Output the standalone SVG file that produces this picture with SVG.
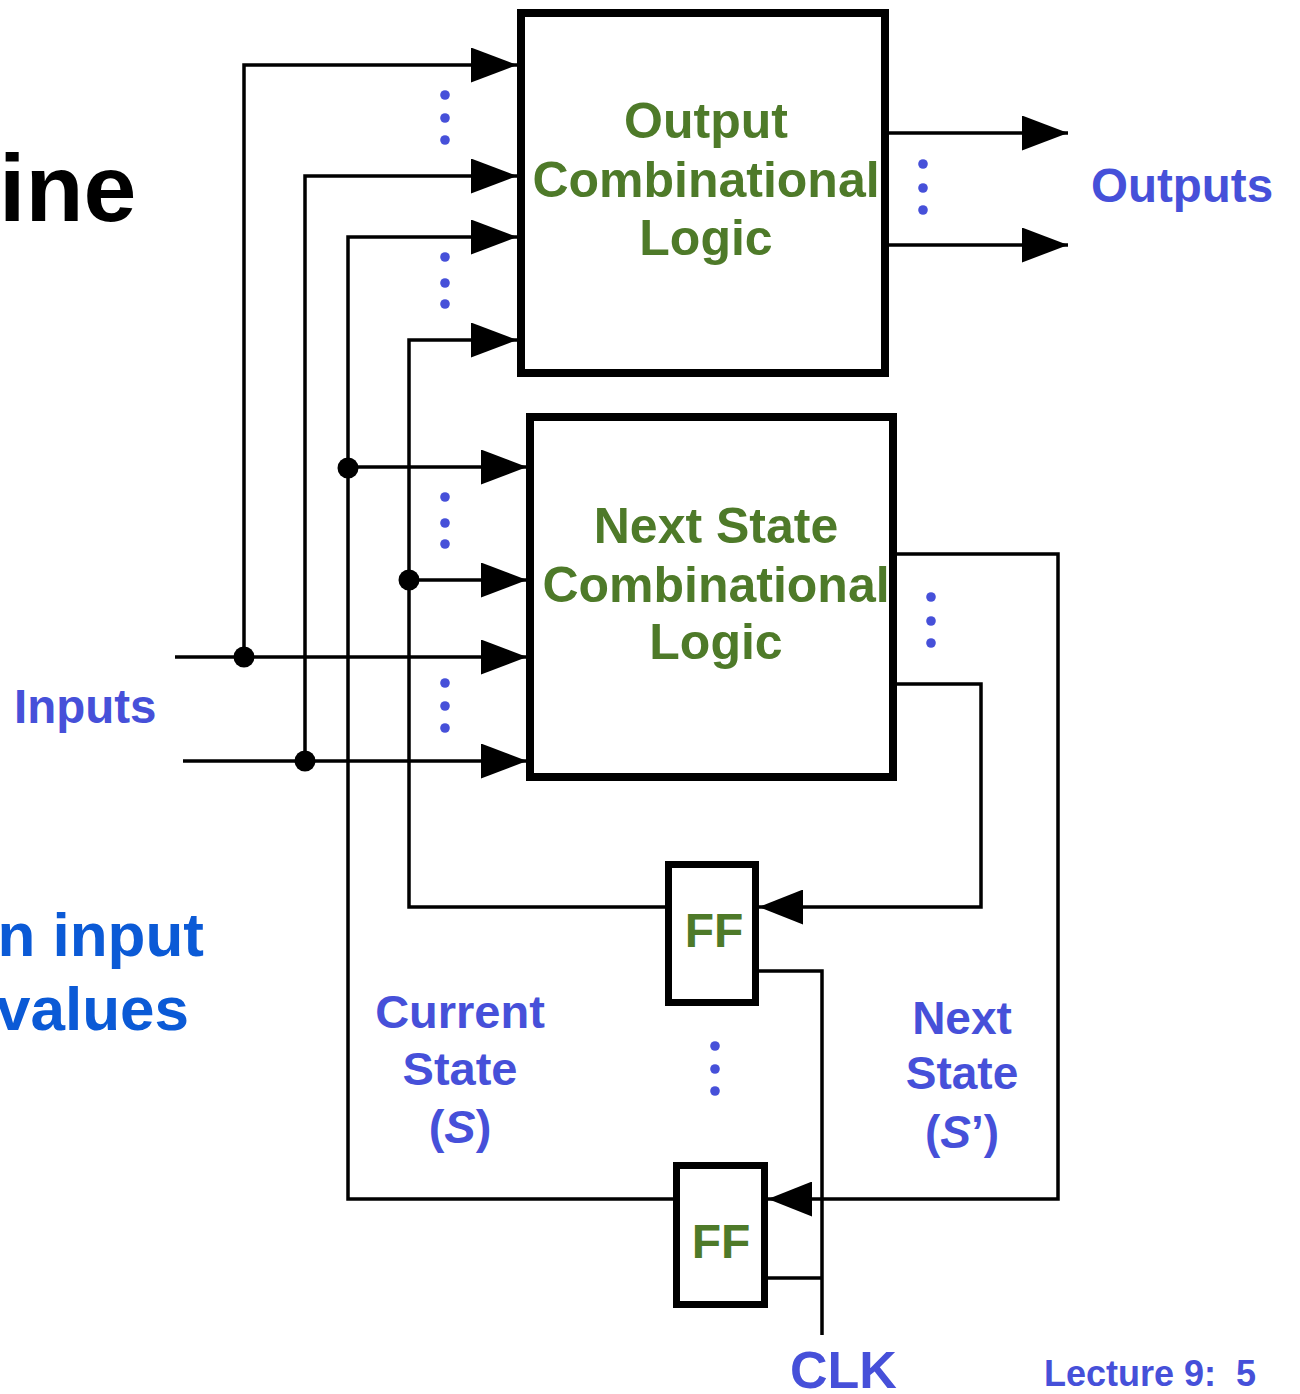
<svg xmlns="http://www.w3.org/2000/svg" width="1300" height="1394" viewBox="0 0 1300 1394">
<style>
.t{font-family:"Liberation Sans",Arial,sans-serif;font-weight:bold}
.g{fill:#4e7a29}
.b{fill:#4650d9}
.w{stroke:#000;stroke-width:3.5;fill:none}
.box{stroke:#000;stroke-width:8;fill:#fff}
.ff{stroke:#000;stroke-width:7;fill:#fff}
.d{fill:#4650d9}
</style>
<defs>
<marker id="ah" markerUnits="userSpaceOnUse" markerWidth="46" markerHeight="35" refX="46" refY="17.5" orient="auto" viewBox="0 0 46 35">
<path d="M0,0 L46,17.5 L0,35 z" fill="#000"/>
</marker>
<marker id="ahs" markerUnits="userSpaceOnUse" markerWidth="44" markerHeight="35" refX="44" refY="17.5" orient="auto" viewBox="0 0 44 35">
<path d="M0,0 L44,17.5 L0,35 z" fill="#000"/>
</marker>
</defs>

<text class="t" x="-1" y="221" font-size="95" fill="#000">ine</text>
<text class="t" x="204" y="956" font-size="62" fill="#0b5ad6" text-anchor="end">n input</text>
<text class="t" x="189" y="1030" font-size="62" fill="#0b5ad6" text-anchor="end">values</text>

<g id="connectors">
<polyline class="w" points="244,657 244,65 517,65" marker-end="url(#ah)"/>
<polyline class="w" points="305,761 305,176 517,176" marker-end="url(#ah)"/>
<polyline class="w" points="673,1199 348,1199 348,237 517,237" marker-end="url(#ah)"/>
<polyline class="w" points="665,907 409,907 409,340 517,340" marker-end="url(#ah)"/>
<line class="w" x1="348" y1="467" x2="527" y2="467" marker-end="url(#ah)"/>
<line class="w" x1="409" y1="580" x2="527" y2="580" marker-end="url(#ah)"/>
<line class="w" x1="175" y1="657" x2="527" y2="657" marker-end="url(#ah)"/>
<line class="w" x1="183" y1="761" x2="527" y2="761" marker-end="url(#ah)"/>
<line class="w" x1="888" y1="133" x2="1068" y2="133" marker-end="url(#ah)"/>
<line class="w" x1="888" y1="245" x2="1068" y2="245" marker-end="url(#ah)"/>
<polyline class="w" points="897,554 1058,554 1058,1199 768,1199" marker-end="url(#ahs)"/>
<polyline class="w" points="897,684 981,684 981,907 759,907" marker-end="url(#ahs)"/>
<polyline class="w" points="757,971 822,971 822,1335"/>
<line class="w" x1="766" y1="1278" x2="822" y2="1278"/>
<circle cx="244" cy="657" r="10.5" fill="#000"/>
<circle cx="305" cy="761" r="10.5" fill="#000"/>
<circle cx="348" cy="468" r="10.5" fill="#000"/>
<circle cx="409" cy="580" r="10.5" fill="#000"/>
</g>

<g id="dots">
<circle class="d" cx="445" cy="95" r="4.8"/><circle class="d" cx="445" cy="118" r="4.8"/><circle class="d" cx="445" cy="140" r="4.8"/>
<circle class="d" cx="445" cy="257" r="4.8"/><circle class="d" cx="445" cy="283" r="4.8"/><circle class="d" cx="445" cy="304" r="4.8"/>
<circle class="d" cx="445" cy="497" r="4.8"/><circle class="d" cx="445" cy="523" r="4.8"/><circle class="d" cx="445" cy="544" r="4.8"/>
<circle class="d" cx="445" cy="683" r="4.8"/><circle class="d" cx="445" cy="706" r="4.8"/><circle class="d" cx="445" cy="728" r="4.8"/>
<circle class="d" cx="923" cy="164" r="4.8"/><circle class="d" cx="923" cy="188" r="4.8"/><circle class="d" cx="923" cy="210" r="4.8"/>
<circle class="d" cx="931" cy="597" r="4.8"/><circle class="d" cx="931" cy="621" r="4.8"/><circle class="d" cx="931" cy="643" r="4.8"/>
<circle class="d" cx="715" cy="1046" r="4.8"/><circle class="d" cx="715" cy="1069" r="4.8"/><circle class="d" cx="715" cy="1091" r="4.8"/>
</g>

<g id="output-logic">
<rect class="box" x="521" y="13" width="364" height="360"/>
<text class="t g" font-size="50" text-anchor="middle" x="706" y="138">Output</text>
<text class="t g" font-size="50" text-anchor="middle" x="706" y="197">Combinational</text>
<text class="t g" font-size="50" text-anchor="middle" x="706" y="255">Logic</text>
</g>

<g id="next-state-logic">
<rect class="box" x="530" y="417" width="363" height="360"/>
<text class="t g" font-size="50" text-anchor="middle" x="716" y="543">Next State</text>
<text class="t g" font-size="50" text-anchor="middle" x="716" y="602">Combinational</text>
<text class="t g" font-size="50" text-anchor="middle" x="716" y="659">Logic</text>
</g>

<g id="ff1">
<rect class="ff" x="668.5" y="864.5" width="87" height="138"/>
<text class="t g" font-size="48" text-anchor="middle" x="714" y="947">FF</text>
</g>

<g id="ff2">
<rect class="ff" x="676.5" y="1165.5" width="88" height="139"/>
<text class="t g" font-size="48" text-anchor="middle" x="721" y="1258">FF</text>
</g>

<g id="labels">
<text class="t b" font-size="47.5" x="14" y="723">Inputs</text>
<text class="t b" font-size="47.5" x="1091" y="202">Outputs</text>
<text class="t b" font-size="47" text-anchor="middle" x="460" y="1028">Current</text>
<text class="t b" font-size="47" text-anchor="middle" x="460" y="1085">State</text>
<text class="t b" font-size="47" text-anchor="middle" x="460" y="1143">(<tspan font-style="italic">S</tspan>)</text>
<text class="t b" font-size="46" text-anchor="middle" x="962" y="1034">Next</text>
<text class="t b" font-size="46" text-anchor="middle" x="962" y="1089">State</text>
<text class="t b" font-size="46" text-anchor="middle" x="962" y="1148">(<tspan font-style="italic">S</tspan>’)</text>
<text class="t b" font-size="52" x="790" y="1388">CLK</text>
<text class="t b" font-size="36" x="1044" y="1386" style="white-space:pre">Lecture 9:  5</text>
</g>
</svg>
